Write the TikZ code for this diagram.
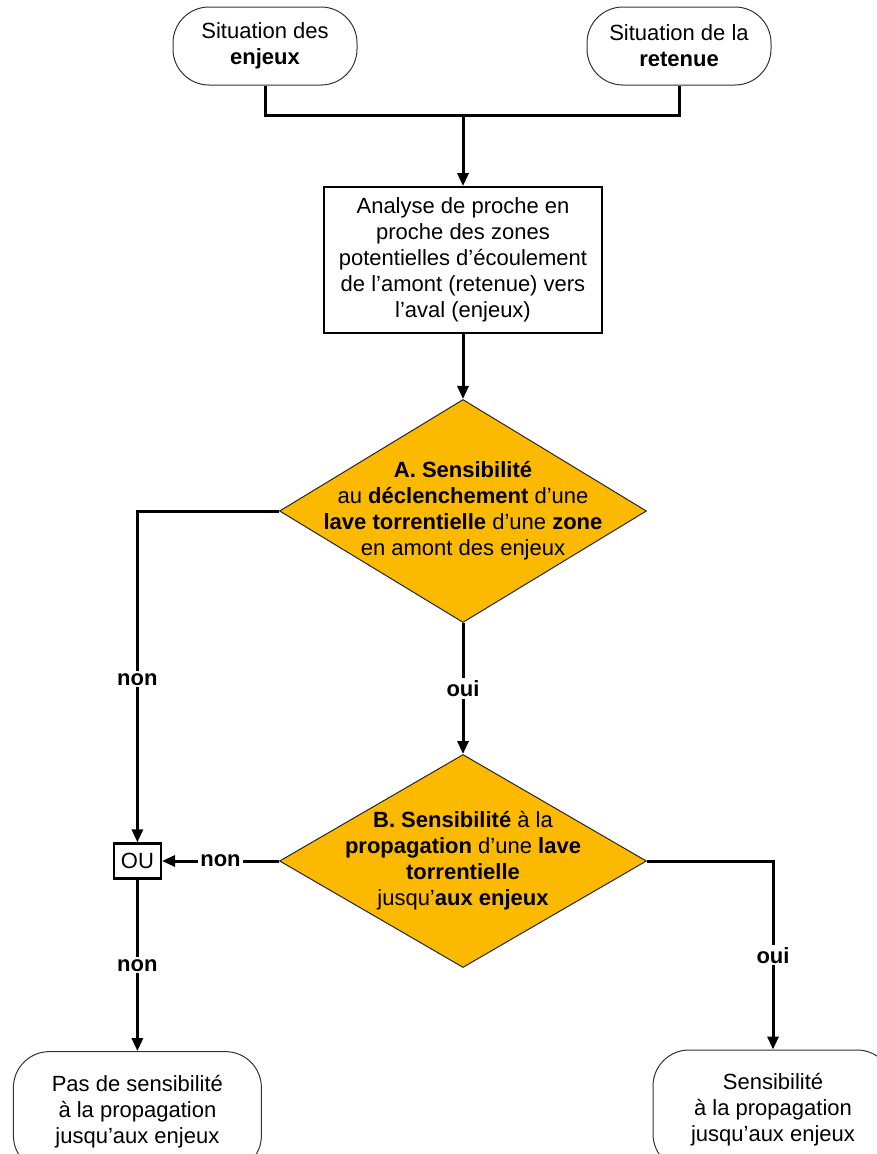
\documentclass[tikz,border=0pt]{standalone}
\usepackage{fontspec}
\setmainfont{Liberation Sans}
\usepackage{tikz}
\usetikzlibrary{positioning,shapes.geometric,arrows.meta}
\definecolor{decision}{HTML}{FBB900}
\tikzset{
  terminator/.style={draw=black!80, line width=1pt, rounded corners=36pt, align=center, minimum width=184pt, minimum height=78pt, inner sep=0pt},
  flow/.style={draw, line width=1.8pt, align=center, minimum width=278pt, minimum height=146pt, inner sep=0pt},
  pred/.style={draw=black!85, line width=1pt, diamond, fill=decision, minimum width=367pt, minimum height=223pt, inner sep=0pt},
  predtext/.style={align=center, inner sep=0pt},
  gate/.style={draw, line width=2.2pt, minimum width=47pt, minimum height=35pt, inner sep=0pt},
  line/.style={line width=3pt},
  arrow/.style={line, -{Triangle[length=13pt,width=11pt]}},
  answer/.style={fill=white, font=\fontsize{22}{26}\selectfont\bfseries, inner sep=2pt}
}

\begin{document}
\begin{tikzpicture}[font=\fontsize{22}{26}\selectfont]
  \useasboundingbox (0,0) rectangle (877pt,-1154pt);
  \node[terminator] (enjeux) at (265pt,-46pt) {Situation des\\\textbf{enjeux}};
  \node[terminator] (retenue) at (679pt,-46pt) {Situation de la\\\textbf{retenue}};
  \node[flow] (analyse) at (463pt,-260pt) {Analyse de proche en\\proche des zones\\potentielles d’écoulement\\de l’amont (retenue) vers\\l’aval (enjeux)};
  \node[pred] (sensA) at (463pt,-511pt) {};
  \node[predtext] (sensAtxt) at (sensA) {\textbf{A. Sensibilité}\\au \textbf{déclenchement} d’une\\\textbf{lave torrentielle} d’une \textbf{zone}\\en amont des enjeux};
  \node[pred, minimum height=213pt] (sensB) at (463pt,-861pt) {};
  \node[predtext] (sensBtxt) at (sensB) {\textbf{B. Sensibilité} à la\\\textbf{propagation} d’une \textbf{lave}\\\textbf{torrentielle}\\jusqu’\textbf{aux enjeux}};
  \node[gate, left=117pt of sensB] (ou) {OU};
  \node[terminator, minimum width=248pt, minimum height=120pt, below=171.5pt of ou] (pasSens) {Pas de sensibilité\\à la propagation\\jusqu’aux enjeux};
  \node[terminator, minimum width=240pt, minimum height=120pt] (sens) at (773pt,-1110pt) {Sensibilité\\à la propagation\\jusqu’aux enjeux};
  \coordinate (join) at (463pt,-115pt);
  \draw[line] (enjeux.south) |- (join) -| (retenue.south);
  \draw[arrow] (join) -- (analyse);
  \draw[arrow] (analyse) -- (sensA);
  \draw[arrow] (sensA.west) -| node[answer, pos=0.754] {non} (ou.north);
  \draw[arrow] (sensA) -- node[answer] {oui} (sensB);
  \draw[arrow] (sensB) -- node[answer] {non} (ou);
  \draw[arrow] (ou) -- node[answer] {non} (pasSens);
  \draw[arrow] (sensB.east) -| node[answer, pos=0.75] {oui} (sens.north);
\end{tikzpicture}
\end{document}
